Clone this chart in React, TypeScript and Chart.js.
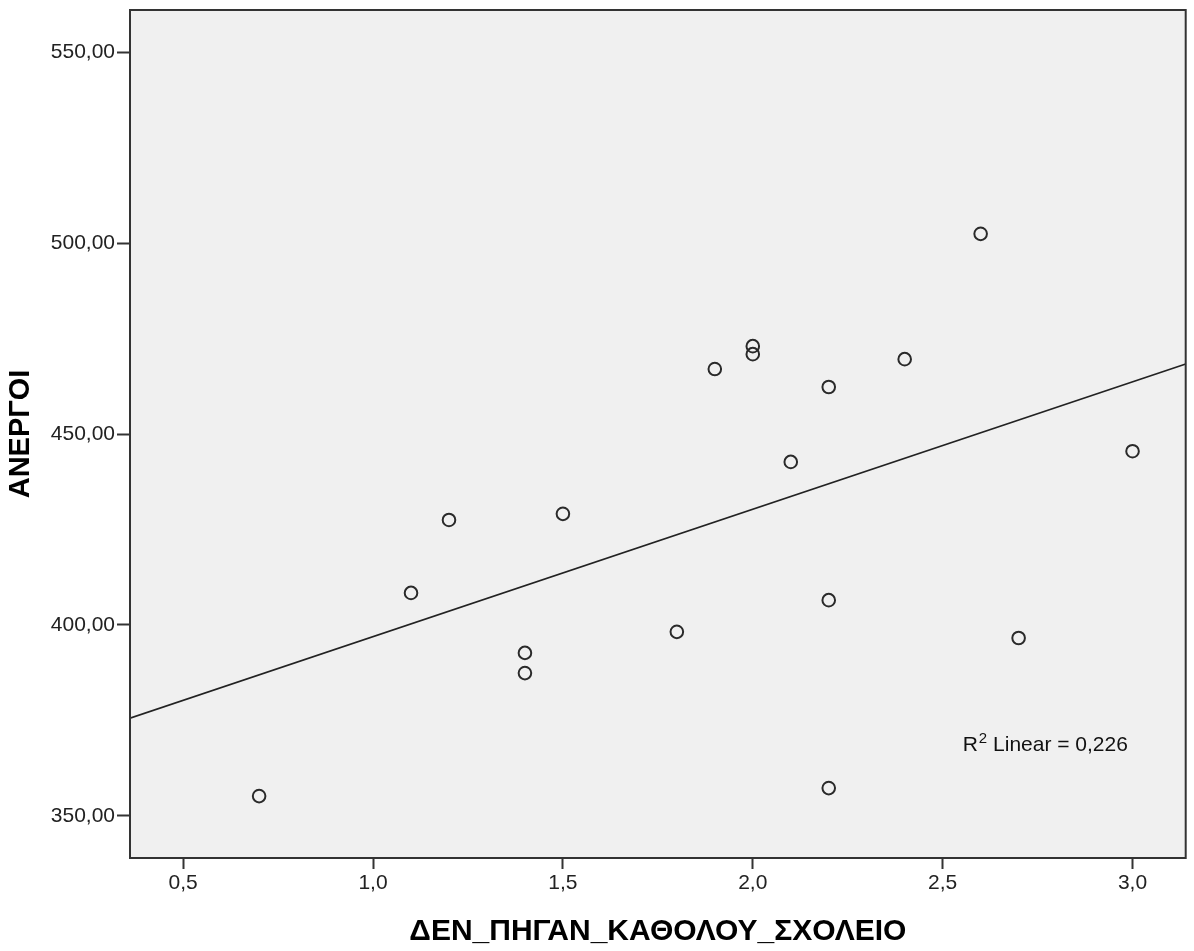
import React, { useEffect, useRef } from "react";
import { Chart, registerables } from "chart.js";

Chart.register(...registerables);

// Data
const xValues: number[] = [0.7, 1.1, 1.2, 1.4, 1.4, 1.5, 1.8, 1.9, 2.0, 2.0, 2.1, 2.2, 2.2, 2.2, 2.4, 2.6, 2.7, 3.0];
const yValues: number[] = [355.2, 408.4, 427.5, 392.7, 387.4, 429.1, 398.2, 467.0, 473.0, 470.9, 442.7, 462.3, 406.5, 357.3, 469.6, 502.4, 396.6, 445.5];

const xTicks: number[] = [0.5, 1.0, 1.5, 2.0, 2.5, 3.0];
const yTicks: number[] = [350, 400, 450, 500, 550];

const xTitle = "ΔΕΝ_ΠΗΓΑΝ_ΚΑΘΟΛΟΥ_ΣΧΟΛΕΙΟ";
const yTitle = "ΑΝΕΡΓΟΙ";
const rSquaredLabel = "0,226";

const X_MIN = 0.36;
const X_MAX = 3.14;
const Y_MIN = 339;
const Y_MAX = 561;

const FONT = "'Liberation Sans', Arial, Helvetica, sans-serif";

function linearFit(xs: number[], ys: number[]) {
  const n = xs.length;
  const mx = xs.reduce((a, b) => a + b, 0) / n;
  const my = ys.reduce((a, b) => a + b, 0) / n;
  let sxy = 0;
  let sxx = 0;
  for (let i = 0; i < n; i++) {
    sxy += (xs[i] - mx) * (ys[i] - my);
    sxx += (xs[i] - mx) * (xs[i] - mx);
  }
  const slope = sxy / sxx;
  const intercept = my - slope * mx;
  return { slope, intercept };
}

export default function App() {
  const canvasRef = useRef<HTMLCanvasElement | null>(null);

  useEffect(() => {
    const canvas = canvasRef.current;
    if (!canvas) return;
    const fit = linearFit(xValues, yValues);
    const fitLine = [X_MIN, X_MAX].map((x) => ({ x, y: fit.intercept + fit.slope * x }));

    const plotFrame = {
      id: "plotFrame",
      beforeDatasetsDraw(chart: any) {
        const { ctx, chartArea } = chart;
        ctx.save();
        ctx.fillStyle = "#f0f0f0";
        ctx.fillRect(chartArea.left, chartArea.top, chartArea.right - chartArea.left, chartArea.bottom - chartArea.top);
        ctx.restore();
      },
      afterDatasetsDraw(chart: any) {
        const { ctx, chartArea } = chart;
        ctx.save();
        ctx.strokeStyle = "#333333";
        ctx.lineWidth = 2;
        ctx.strokeRect(chartArea.left, chartArea.top, chartArea.right - chartArea.left, chartArea.bottom - chartArea.top);
        // R² annotation
        ctx.fillStyle = "#111111";
        ctx.textBaseline = "alphabetic";
        ctx.textAlign = "left";
        let x = chartArea.right - 223;
        const y = chartArea.bottom - 107;
        ctx.font = `21px ${FONT}`;
        ctx.fillText("R", x, y);
        x += ctx.measureText("R").width + 1;
        ctx.font = `15px ${FONT}`;
        ctx.fillText("2", x, y - 8);
        x += ctx.measureText("2").width;
        ctx.font = `21px ${FONT}`;
        ctx.fillText(" Linear = " + rSquaredLabel, x, y);
        ctx.restore();
      },
    };

    const chart = new Chart(canvas, {
      type: "scatter",
      data: {
        datasets: [
          {
            type: "scatter",
            data: xValues.map((x, i) => ({ x, y: yValues[i] })),
            pointStyle: "circle",
            pointRadius: 6.3,
            pointBorderWidth: 2,
            pointBorderColor: "#2a2a2a",
            pointBackgroundColor: "rgba(0,0,0,0)",
            order: 1,
          },
          {
            type: "line",
            data: fitLine,
            borderColor: "#222222",
            borderWidth: 1.6,
            pointRadius: 0,
            fill: false,
            order: 2,
          } as any,
        ],
      },
      plugins: [plotFrame],
      options: {
        responsive: false,
        animation: false,
        layout: { padding: { top: 10, right: 2, left: 0, bottom: 0 } },
        plugins: {
          legend: { display: false },
          tooltip: { enabled: false },
        },
        scales: {
          x: {
            type: "linear",
            min: X_MIN,
            max: X_MAX,
            afterBuildTicks(scale: any) {
              scale.ticks = xTicks.map((v) => ({ value: v }));
            },
            afterFit(scale: any) {
              scale.height = 93;
              scale.paddingLeft = 0;
              scale.paddingRight = 0;
            },
            ticks: {
              color: "#222222",
              font: { family: FONT, size: 21 },
              padding: 2,
              maxRotation: 0,
              callback: (v: any) => Number(v).toFixed(1).replace(".", ","),
            },
            grid: {
              drawOnChartArea: false,
              drawTicks: true,
              tickLength: 11,
              tickColor: "#333333",
              tickWidth: 2,
            },
            border: { display: true, color: "#333333", width: 2 },
            title: {
              display: true,
              text: xTitle,
              color: "#000000",
              font: { family: FONT, size: 30, weight: "bold" },
              padding: { top: 0, bottom: 1 },
            },
          },
          y: {
            type: "linear",
            min: Y_MIN,
            max: Y_MAX,
            afterBuildTicks(scale: any) {
              scale.ticks = yTicks.map((v) => ({ value: v }));
            },
            afterFit(scale: any) {
              scale.width = 130;
              scale.paddingTop = 0;
              scale.paddingBottom = 0;
            },
            ticks: {
              color: "#222222",
              font: { family: FONT, size: 21 },
              padding: 2,
              callback: (v: any) => Number(v).toFixed(2).replace(".", ","),
            },
            grid: {
              drawOnChartArea: false,
              drawTicks: true,
              tickLength: 13,
              tickColor: "#333333",
              tickWidth: 2,
            },
            border: { display: true, color: "#333333", width: 2 },
            title: {
              display: true,
              text: yTitle,
              color: "#000000",
              font: { family: FONT, size: 29, weight: "bold" },
              padding: { top: 4, bottom: 0 },
            },
          },
        },
      },
    });
    return () => chart.destroy();
  }, []);

  return (
    <div style={{ position: "absolute", left: 0, top: 0, width: 1194, height: 951, background: "#ffffff" }}>
      <canvas ref={canvasRef} width={1194} height={951} style={{ display: "block" }} />
    </div>
  );
}
